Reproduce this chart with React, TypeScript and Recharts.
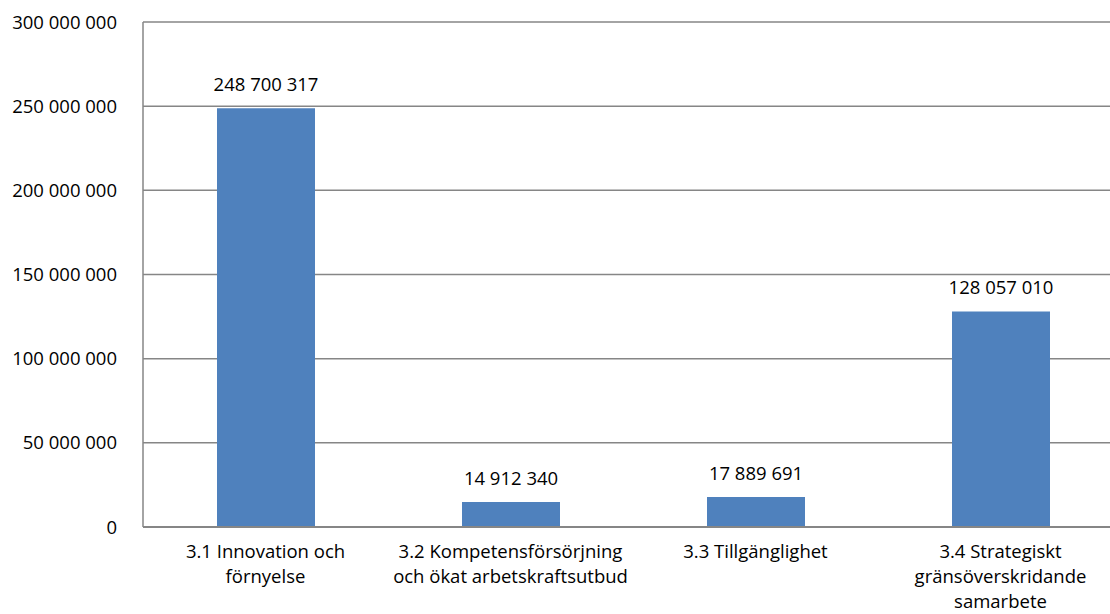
import { BarChart, Bar, XAxis, YAxis, CartesianGrid, LabelList } from 'recharts';

// Categories use "\n" where the original label breaks onto a new line
const categories = [
  '3.1 Innovation och\nförnyelse',
  '3.2 Kompetensförsörjning\noch ökat arbetskraftsutbud',
  '3.3 Tillgänglighet',
  '3.4 Strategiskt\ngränsöverskridande\nsamarbete',
];
const amounts = [248700317, 14912340, 17889691, 128057010];
const yTicks = [0, 50000000, 100000000, 150000000, 200000000, 250000000, 300000000];

const data = categories.map((name, i) => ({ name, amount: amounts[i] }));

const FONT = '"Open Sans", sans-serif';
const FONT_SIZE = 18.5;
const AXIS_GRAY = '#868686';

// 300000000 -> "300 000 000"
const spaced = (v: number) => String(v).replace(/\B(?=(\d{3})+(?!\d))/g, ' ');

function CategoryTick(props: any) {
  const { x, y, payload } = props;
  const lines = String(payload.value).split('\n');
  return (
    <text x={x} y={y} textAnchor="middle" fill="#000" fontFamily={FONT} fontSize={FONT_SIZE}>
      {lines.map((line, i) => (
        <tspan key={i} x={x} dy={i === 0 ? 31 : 25}>
          {line}
        </tspan>
      ))}
    </text>
  );
}

export default function App() {
  return (
    <div
      style={{
        position: 'fixed',
        left: 0,
        top: 0,
        width: 1110,
        height: 614,
        overflow: 'hidden',
        background: '#fff',
      }}
    >
      <BarChart
        width={1123}
        height={614}
        data={data}
        margin={{ top: 22, right: 0, bottom: 0, left: 0 }}
        barSize={98}
      >
        <CartesianGrid vertical={false} stroke={AXIS_GRAY} strokeWidth={1.5} />
        <XAxis
          dataKey="name"
          height={87}
          tickLine={false}
          tickSize={0}
          tickMargin={0}
          axisLine={{ stroke: AXIS_GRAY, strokeWidth: 2 }}
          tick={<CategoryTick />}
          interval={0}
        />
        <YAxis
          width={143}
          domain={[0, 300000000]}
          ticks={yTicks}
          tickFormatter={spaced}
          tickLine={false}
          tickSize={0}
          tickMargin={26}
          axisLine={{ stroke: AXIS_GRAY, strokeWidth: 1.5 }}
          tick={{ fill: '#000', fontFamily: FONT, fontSize: FONT_SIZE }}
        />
        <Bar dataKey="amount" fill="#4F81BD" isAnimationActive={false}>
          <LabelList
            dataKey="amount"
            position="top"
            offset={17}
            formatter={(v: any) => spaced(Number(v))}
            style={{ fill: '#000', fontFamily: FONT, fontSize: FONT_SIZE }}
          />
        </Bar>
      </BarChart>
    </div>
  );
}
